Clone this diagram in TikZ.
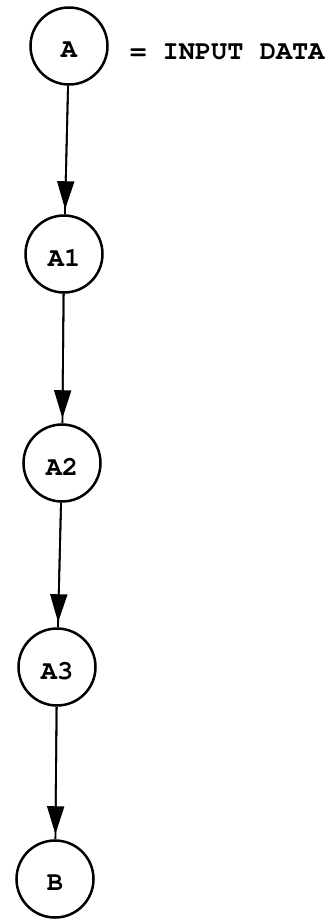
\documentclass[tikz,border=0pt]{standalone}
\usepackage{fontspec}
\newfontfamily\tw{TeX Gyre Cursor Bold}
\newcommand\lowtxt[1]{\raisebox{-4pt}[\height][0pt]{#1}}
\usetikzlibrary{arrows.meta}
\begin{document}
\begin{tikzpicture}[x=1pt,y=-1pt,
  txt/.style={font=\tw\fontsize{27}{27}\selectfont},
  st/.style={circle, draw, line width=2.5pt, minimum size=77pt, inner sep=0pt, txt},
  conn/.style={line width=1.8pt},
  head/.style={conn, -{Triangle[width=17pt,length=28pt]}, shorten >=5pt}]
\useasboundingbox (0,0) rectangle (334,919);
\node[st] (A) at (69,46) {\lowtxt{A}};
\node[anchor=west, inner sep=0pt, txt] (lbl) at (130,52) {= INPUT DATA};
\node[st] (A1) at (64,254) {\lowtxt{A1}};
\node[st] (A2) at (62,463) {\lowtxt{A2}};
\node[st] (A3) at (57,667) {\lowtxt{A3}};
\node[st] (B) at (55,879) {\lowtxt{B}};
\foreach \a/\b in {A/A1, A1/A2, A2/A3, A3/B}{
  \draw[conn] (\a) -- (\b);
  \draw[head] (\a) -- (\b);
}
\end{tikzpicture}
\end{document}
